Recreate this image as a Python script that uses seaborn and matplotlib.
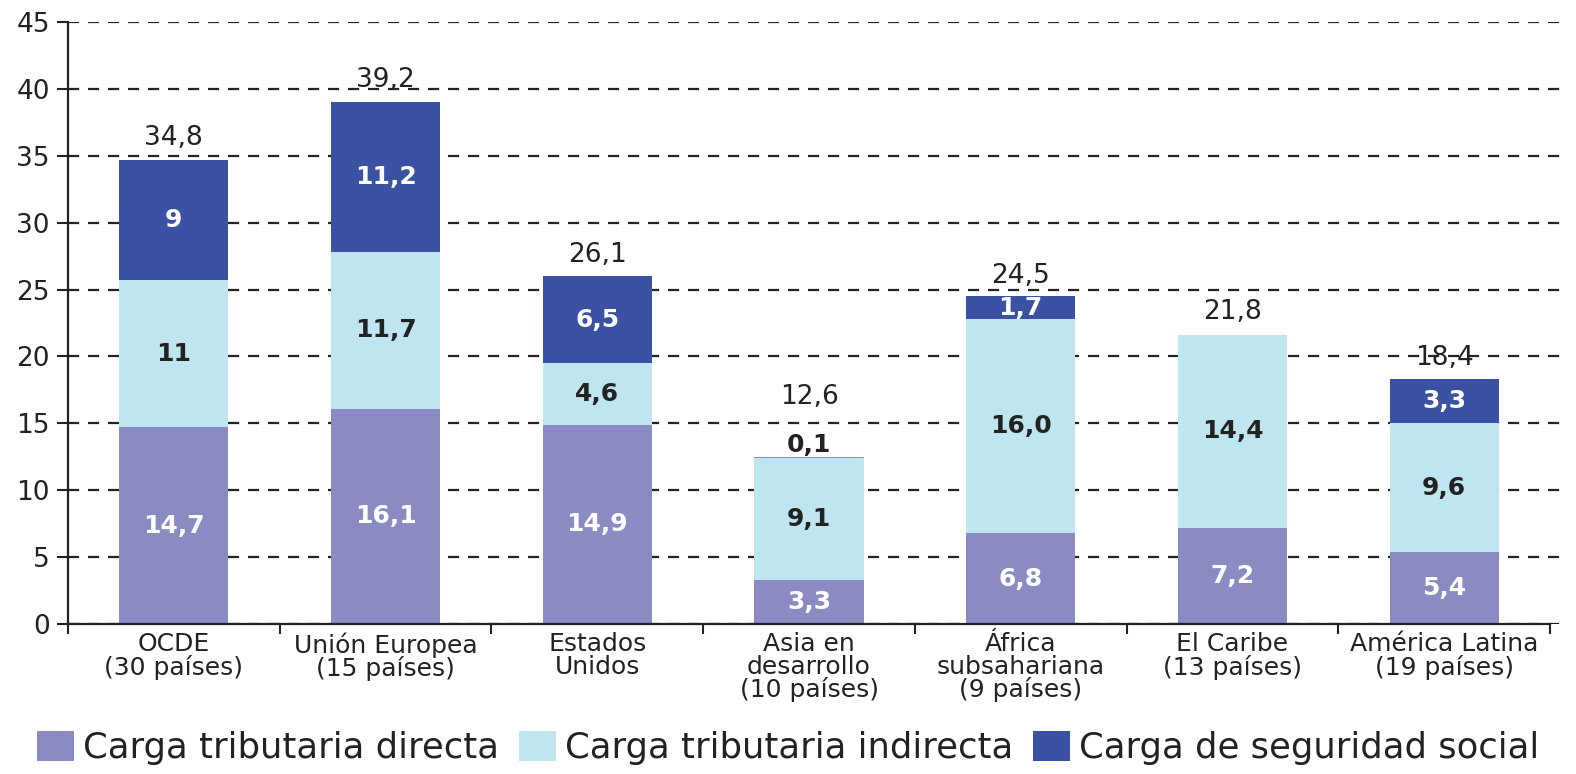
import matplotlib
matplotlib.use("Agg")
import matplotlib.pyplot as plt
import numpy as np
import pandas as pd
import seaborn as sns
from matplotlib.patches import Patch

# ── Data ─────────────────────────────────────────────────────────────
categories = [
    "OCDE\n(30 países)", "Unión Europea\n(15 países)", "Estados\nUnidos",
    "Asia en\ndesarrollo\n(10 países)", "África\nsubsahariana\n(9 países)",
    "El Caribe\n(13 países)", "América Latina\n(19 países)",
]
directa    = [14.7, 16.1, 14.9, 3.3, 6.8, 7.2, 5.4]
indirecta  = [11.0, 11.7, 4.6, 9.1, 16.0, 14.4, 9.6]
seguridad  = [9.0, 11.2, 6.5, 0.1, 1.7, 0.0, 3.3]
totals     = [34.8, 39.2, 26.1, 12.6, 24.5, 21.8, 18.4]

directa_lbl   = ["14,7", "16,1", "14,9", "3,3", "6,8", "7,2", "5,4"]
indirecta_lbl = ["11", "11,7", "4,6", "9,1", "16,0", "14,4", "9,6"]
seguridad_lbl = ["9", "11,2", "6,5", "0,1", "1,7", "", "3,3"]
total_lbl     = ["34,8", "39,2", "26,1", "12,6", "24,5", "21,8", "18,4"]

series_names = ["Carga tributaria directa", "Carga tributaria indirecta",
                "Carga de seguridad social"]

_DIRECTA   = "#8a8bc3"
_INDIRECTA = "#bfe5f0"
_SEGURIDAD = "#3b51a3"
_TEXT      = "#222222"

sns.set_theme(style="white")
plt.rcParams["font.family"] = ["DejaVu Sans"]

df = pd.DataFrame({
    "cat": categories,
    "directa": directa,
    "indirecta": indirecta,
    "seguridad": seguridad,
})
bottom_ind = np.array(directa)
bottom_seg = bottom_ind + np.array(indirecta)

fig = plt.figure(figsize=(15.76, 7.74), dpi=100)
ax = fig.add_axes([0.0431, 0.1938, 0.950, 0.7778])

w = 0.515
sns.barplot(data=df, x="cat", y="directa", order=categories, color=_DIRECTA,
            saturation=1, width=w, ax=ax, linewidth=0, zorder=3)
sns.barplot(data=df, x="cat", y="indirecta", order=categories, color=_INDIRECTA,
            saturation=1, width=w, ax=ax, linewidth=0, bottom=bottom_ind, zorder=3)
sns.barplot(data=df, x="cat", y="seguridad", order=categories, color=_SEGURIDAD,
            saturation=1, width=w, ax=ax, linewidth=0, bottom=bottom_seg, zorder=3)

# thin Asia social-security sliver looks lavender in the original
ax.patches[-4].set_facecolor(_DIRECTA)

# ── Labels ───────────────────────────────────────────────────────────
lbl_kw = dict(ha="center", va="center", fontsize=18, fontweight="bold", zorder=5)
for i in range(len(categories)):
    ax.text(i, directa[i] / 2, directa_lbl[i], color="white", **lbl_kw)
    ax.text(i, bottom_ind[i] + indirecta[i] / 2, indirecta_lbl[i], color=_TEXT, **lbl_kw)
    if seguridad_lbl[i]:
        if seguridad[i] < 1:
            ax.text(i, bottom_seg[i] + seguridad[i] + 0.9, seguridad_lbl[i],
                    color=_TEXT, **lbl_kw)
        else:
            ax.text(i, bottom_seg[i] + seguridad[i] / 2, seguridad_lbl[i],
                    color="white", **lbl_kw)
    extra = 4.4 if seguridad[i] and seguridad[i] < 1 else 1.5
    ax.text(i, totals[i] + extra, total_lbl[i], ha="center", va="center",
            fontsize=19, color=_TEXT, zorder=5)

# ── Axes styling ─────────────────────────────────────────────────────
ax.set_ylim(0, 45)
ax.set_xlim(-0.5, 6.571)
ax.set_yticks(np.arange(0, 46, 5))
ax.tick_params(axis="y", labelsize=19, colors=_TEXT, length=8, width=1.5,
               direction="out", left=True, pad=5)
ax.tick_params(axis="x", which="major", length=0, labelsize=18, colors=_TEXT, pad=6)
ax.set_xticks(np.arange(-0.5, 7, 1), minor=True)
ax.tick_params(axis="x", which="minor", length=7, width=1.5, color=_TEXT, bottom=True)
ax.set_xticklabels(categories, linespacing=0.92)
ax.set_xlabel("")
ax.set_ylabel("")

ax.yaxis.grid(True, linestyle=(0, (5, 4)), color="#222222", linewidth=1.6, zorder=0)
ax.set_axisbelow(True)
for side in ["top", "right"]:
    ax.spines[side].set_visible(False)
for side in ["left", "bottom"]:
    ax.spines[side].set_color(_TEXT)
    ax.spines[side].set_linewidth(1.6)
    ax.spines[side].set_zorder(4)
ax.spines["bottom"].set_bounds(-0.5, 6.5)

handles = [Patch(facecolor=c, edgecolor="none") for c in (_DIRECTA, _INDIRECTA, _SEGURIDAD)]
fig.legend(handles, series_names, loc="lower center", bbox_to_anchor=(0.5, -0.03),
           ncol=3, frameon=False, fontsize=25.5, handlelength=1.05, handleheight=0.95,
           handletextpad=0.25, columnspacing=0.55, labelcolor=_TEXT)

fig.savefig("out.png", dpi=100, facecolor="white")
